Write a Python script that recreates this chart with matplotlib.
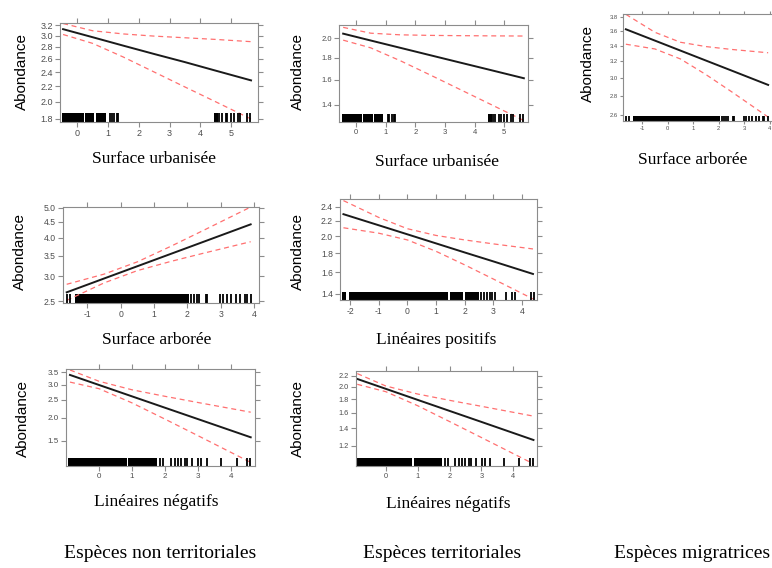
import numpy as np
import matplotlib
matplotlib.use("Agg")
import matplotlib.pyplot as plt

W, H = 772, 568

# rug data (dense stretches as blocks, isolated values as ticks)
urban_blocks = [(-0.48, 0.21), (0.25, 0.56), (0.60, 0.92), (4.44, 4.58)]
urban_ticks = [1.07, 1.12, 1.21, 1.28, 1.33, 4.62, 4.70, 4.82, 4.88, 5.00, 5.08,
               5.22, 5.30, 5.52, 5.63]
arbor_blocks = [(-1.36, 2.04)]
arbor_ticks = [-1.62, -1.52, 2.12, 2.20, 2.28, 2.35, 2.55, 2.60, 2.98, 3.08, 3.20,
               3.30, 3.45, 3.58, 3.72, 3.78, 3.92]
linpos_blocks = [(-2.27, -2.14), (-2.02, 1.42), (1.48, 1.95), (2.00, 2.50)]
linpos_ticks = [2.58, 2.68, 2.78, 2.88, 2.97, 3.05, 3.46, 3.64, 3.75, 4.33, 4.42]
linneg_blocks = [(-0.93, 0.84), (0.89, 1.75)]
linneg_ticks = [1.85, 1.96, 2.18, 2.30, 2.40, 2.50, 2.60, 2.68, 2.82, 3.02, 3.10,
                3.27, 3.70, 4.19, 4.51, 4.60]

# effect curves: x, fit, lower, upper
p1_x = [-0.46, 0.5, 1.5, 2.5, 3.5, 4.5, 5.65]
p1_fit = [3.12, 2.97, 2.82, 2.68, 2.55, 2.42, 2.28]
p1_lo = [3.02, 2.86, 2.63, 2.40, 2.19, 2.00, 1.80]
p1_hi = [3.23, 3.09, 3.03, 2.99, 2.96, 2.93, 2.89]

p2_x = [-0.43, 0.5, 1.5, 2.5, 3.5, 4.5, 5.66]
p2_fit = [2.05, 1.976, 1.90, 1.827, 1.757, 1.690, 1.615]
p2_lo = [1.98, 1.90, 1.773, 1.644, 1.522, 1.409, 1.288]
p2_hi = [2.12, 2.055, 2.037, 2.031, 2.028, 2.026, 2.024]

p3_x = [-1.64, -0.5, 0.5, 1.5, 2.5, 3.94]
p3_fit = [3.62, 3.465, 3.334, 3.208, 3.087, 2.92]
p3_lo = [3.417, 3.355, 3.228, 3.039, 2.845, 2.579]
p3_hi = [3.835, 3.578, 3.443, 3.386, 3.349, 3.306]

p4_x = [-1.62, -0.5, 0.5, 1.5, 2.5, 3.9]
p4_fit = [2.667, 2.955, 3.238, 3.548, 3.888, 4.42]
p4_lo = [2.512, 2.860, 3.134, 3.355, 3.570, 3.885]
p4_hi = [2.831, 3.053, 3.345, 3.753, 4.235, 5.027]

p5_x = [-2.23, -1, 0, 1, 2, 3, 4.39]
p5_fit = [2.290, 2.139, 2.023, 1.913, 1.809, 1.712, 1.584]
p5_lo = [2.106, 2.037, 1.954, 1.822, 1.676, 1.536, 1.358]
p5_hi = [2.490, 2.245, 2.094, 2.009, 1.954, 1.907, 1.848]

p6_x = [-0.88, 0, 1, 2, 3, 4.61]
p6_fit = [3.386, 2.993, 2.602, 2.262, 1.967, 1.570]
p6_lo = [3.10, 2.859, 2.401, 1.966, 1.604, 1.152]
p6_hi = [3.60, 3.133, 2.821, 2.603, 2.412, 2.139]

p7_x = [-0.89, 0, 1, 2, 3, 4.63]
p7_fit = [2.144, 1.969, 1.789, 1.626, 1.478, 1.264]
p7_lo = [2.047, 1.921, 1.701, 1.483, 1.291, 1.028]
p7_hi = [2.246, 2.018, 1.882, 1.782, 1.692, 1.554]

fig = plt.figure(figsize=(W / 100, H / 100), dpi=100)
GRAY = "#8c8c8c"


def panel(box, xlim, ylim, xticks, yticks, x, fit, lo, hi, blocks, ticks,
          xlabel, ylab_xy, xlab_xy, fs=6.2, rug_px=8.5, tick_len=3.5):
    x0, y0, x1, y1 = box
    ax = fig.add_axes([x0 / W, 1 - y1 / H, (x1 - x0) / W, (y1 - y0) / H])
    ax.set_yscale("log")
    ax.set_xlim(*xlim)
    ax.set_ylim(*ylim)
    ax.plot(x, hi, color="#ff7070", lw=0.9, ls=(0, (4, 3)))
    ax.plot(x, lo, color="#ff7070", lw=0.9, ls=(0, (4, 3)))
    ax.plot(x, fit, color="#1a1a1a", lw=1.4)
    frac = rug_px / (y1 - y0)
    for a, b in blocks:
        ax.axvspan(a, b, ymin=0, ymax=frac, color="black", lw=0)
    ax.vlines(ticks, 0, frac, color="black", lw=1.3,
              transform=ax.get_xaxis_transform())
    ax.minorticks_off()
    ax.set_xticks(xticks)
    ax.set_xticklabels([str(t) for t in xticks])
    ax.set_yticks(yticks)
    ax.set_yticklabels([f"{t:.1f}" for t in yticks])
    ax.minorticks_off()
    ax.tick_params(direction="out", length=tick_len, width=0.8, color=GRAY,
                   labelsize=fs, labelcolor="#4d4d4d", pad=1.5,
                   top=True, right=True, labeltop=False, labelright=False)
    for lab in ax.get_xticklabels() + ax.get_yticklabels():
        lab.set_family("Liberation Sans")
    for s in ax.spines.values():
        s.set_color(GRAY)
        s.set_linewidth(0.8)
    fig.text(ylab_xy[0] / W, 1 - ylab_xy[1] / H, "Abondance", rotation=90,
             ha="center", va="center", fontsize=11, family="Liberation Sans")
    fig.text(xlab_xy[0] / W, 1 - xlab_xy[1] / H, xlabel, ha="center",
             va="center", fontsize=12.5, family="Liberation Serif")
    return ax


panel((60, 23, 257.5, 122), (-0.56, 5.86), (1.767, 3.24), [0, 1, 2, 3, 4, 5],
      [1.8, 2.0, 2.2, 2.4, 2.6, 2.8, 3.0, 3.2], p1_x, p1_fit, p1_lo, p1_hi,
      urban_blocks, urban_ticks, "Surface urbanisée", (21.5, 71), (153.5, 159.5),
      fs=6.5, rug_px=9)
panel((339.3, 25, 528.3, 121.7), (-0.56, 5.81), (1.28, 2.147), [0, 1, 2, 3, 4, 5],
      [1.4, 1.6, 1.8, 2.0], p2_x, p2_fit, p2_lo, p2_hi,
      urban_blocks, urban_ticks, "Surface urbanisée", (297.5, 71), (436.7, 162.5),
      fs=5.5, rug_px=8)
panel((623.3, 14, 773.5, 120.7), (-1.74, 4.15), (2.543, 3.84), [-1, 0, 1, 2, 3, 4],
      [2.6, 2.8, 3.0, 3.2, 3.4, 3.6, 3.8], p3_x, p3_fit, p3_lo, p3_hi,
      arbor_blocks, arbor_ticks, "Surface arborée", (587.5, 63.5), (692.8, 160),
      fs=4.2, rug_px=5, tick_len=2.5)
panel((62.7, 206.7, 259, 302.7), (-1.74, 4.15), (2.469, 5.04), [-1, 0, 1, 2, 3, 4],
      [2.5, 3.0, 3.5, 4.0, 4.5, 5.0], p4_x, p4_fit, p4_lo, p4_hi,
      arbor_blocks, arbor_ticks, "Surface arborée", (19.5, 251.7), (156.2, 340))
panel((340, 199.3, 536.7, 300), (-2.35, 4.52), (1.349, 2.51), [-2, -1, 0, 1, 2, 3, 4],
      [1.4, 1.6, 1.8, 2.0, 2.2, 2.4], p5_x, p5_fit, p5_lo, p5_hi,
      linpos_blocks, linpos_ticks, "Linéaires positifs", (297.5, 251.7), (436.3, 339.5))
panel((65.7, 369.3, 255, 466), (-1.01, 4.74), (1.102, 3.63), [0, 1, 2, 3, 4],
      [1.5, 2.0, 2.5, 3.0, 3.5], p6_x, p6_fit, p6_lo, p6_hi,
      linneg_blocks, linneg_ticks, "Linéaires négatifs", (22.5, 418.3), (156.7, 501.7),
      fs=5.8)
panel((356, 371, 537.3, 466), (-0.93, 4.75), (1.009, 2.297), [0, 1, 2, 3, 4],
      [1.2, 1.4, 1.6, 1.8, 2.0, 2.2], p7_x, p7_fit, p7_lo, p7_hi,
      linneg_blocks, linneg_ticks, "Linéaires négatifs", (297.5, 418.3), (448.3, 504),
      fs=5.3)

groups = ["Espèces non territoriales", "Espèces territoriales", "Espèces migratrices"]
group_x = [160, 442, 692]
for g, gx in zip(groups, group_x):
    fig.text(gx / W, 1 - 553 / H, g, ha="center", va="center", fontsize=14,
             family="Liberation Serif")

fig.savefig("out.png", dpi=100)
